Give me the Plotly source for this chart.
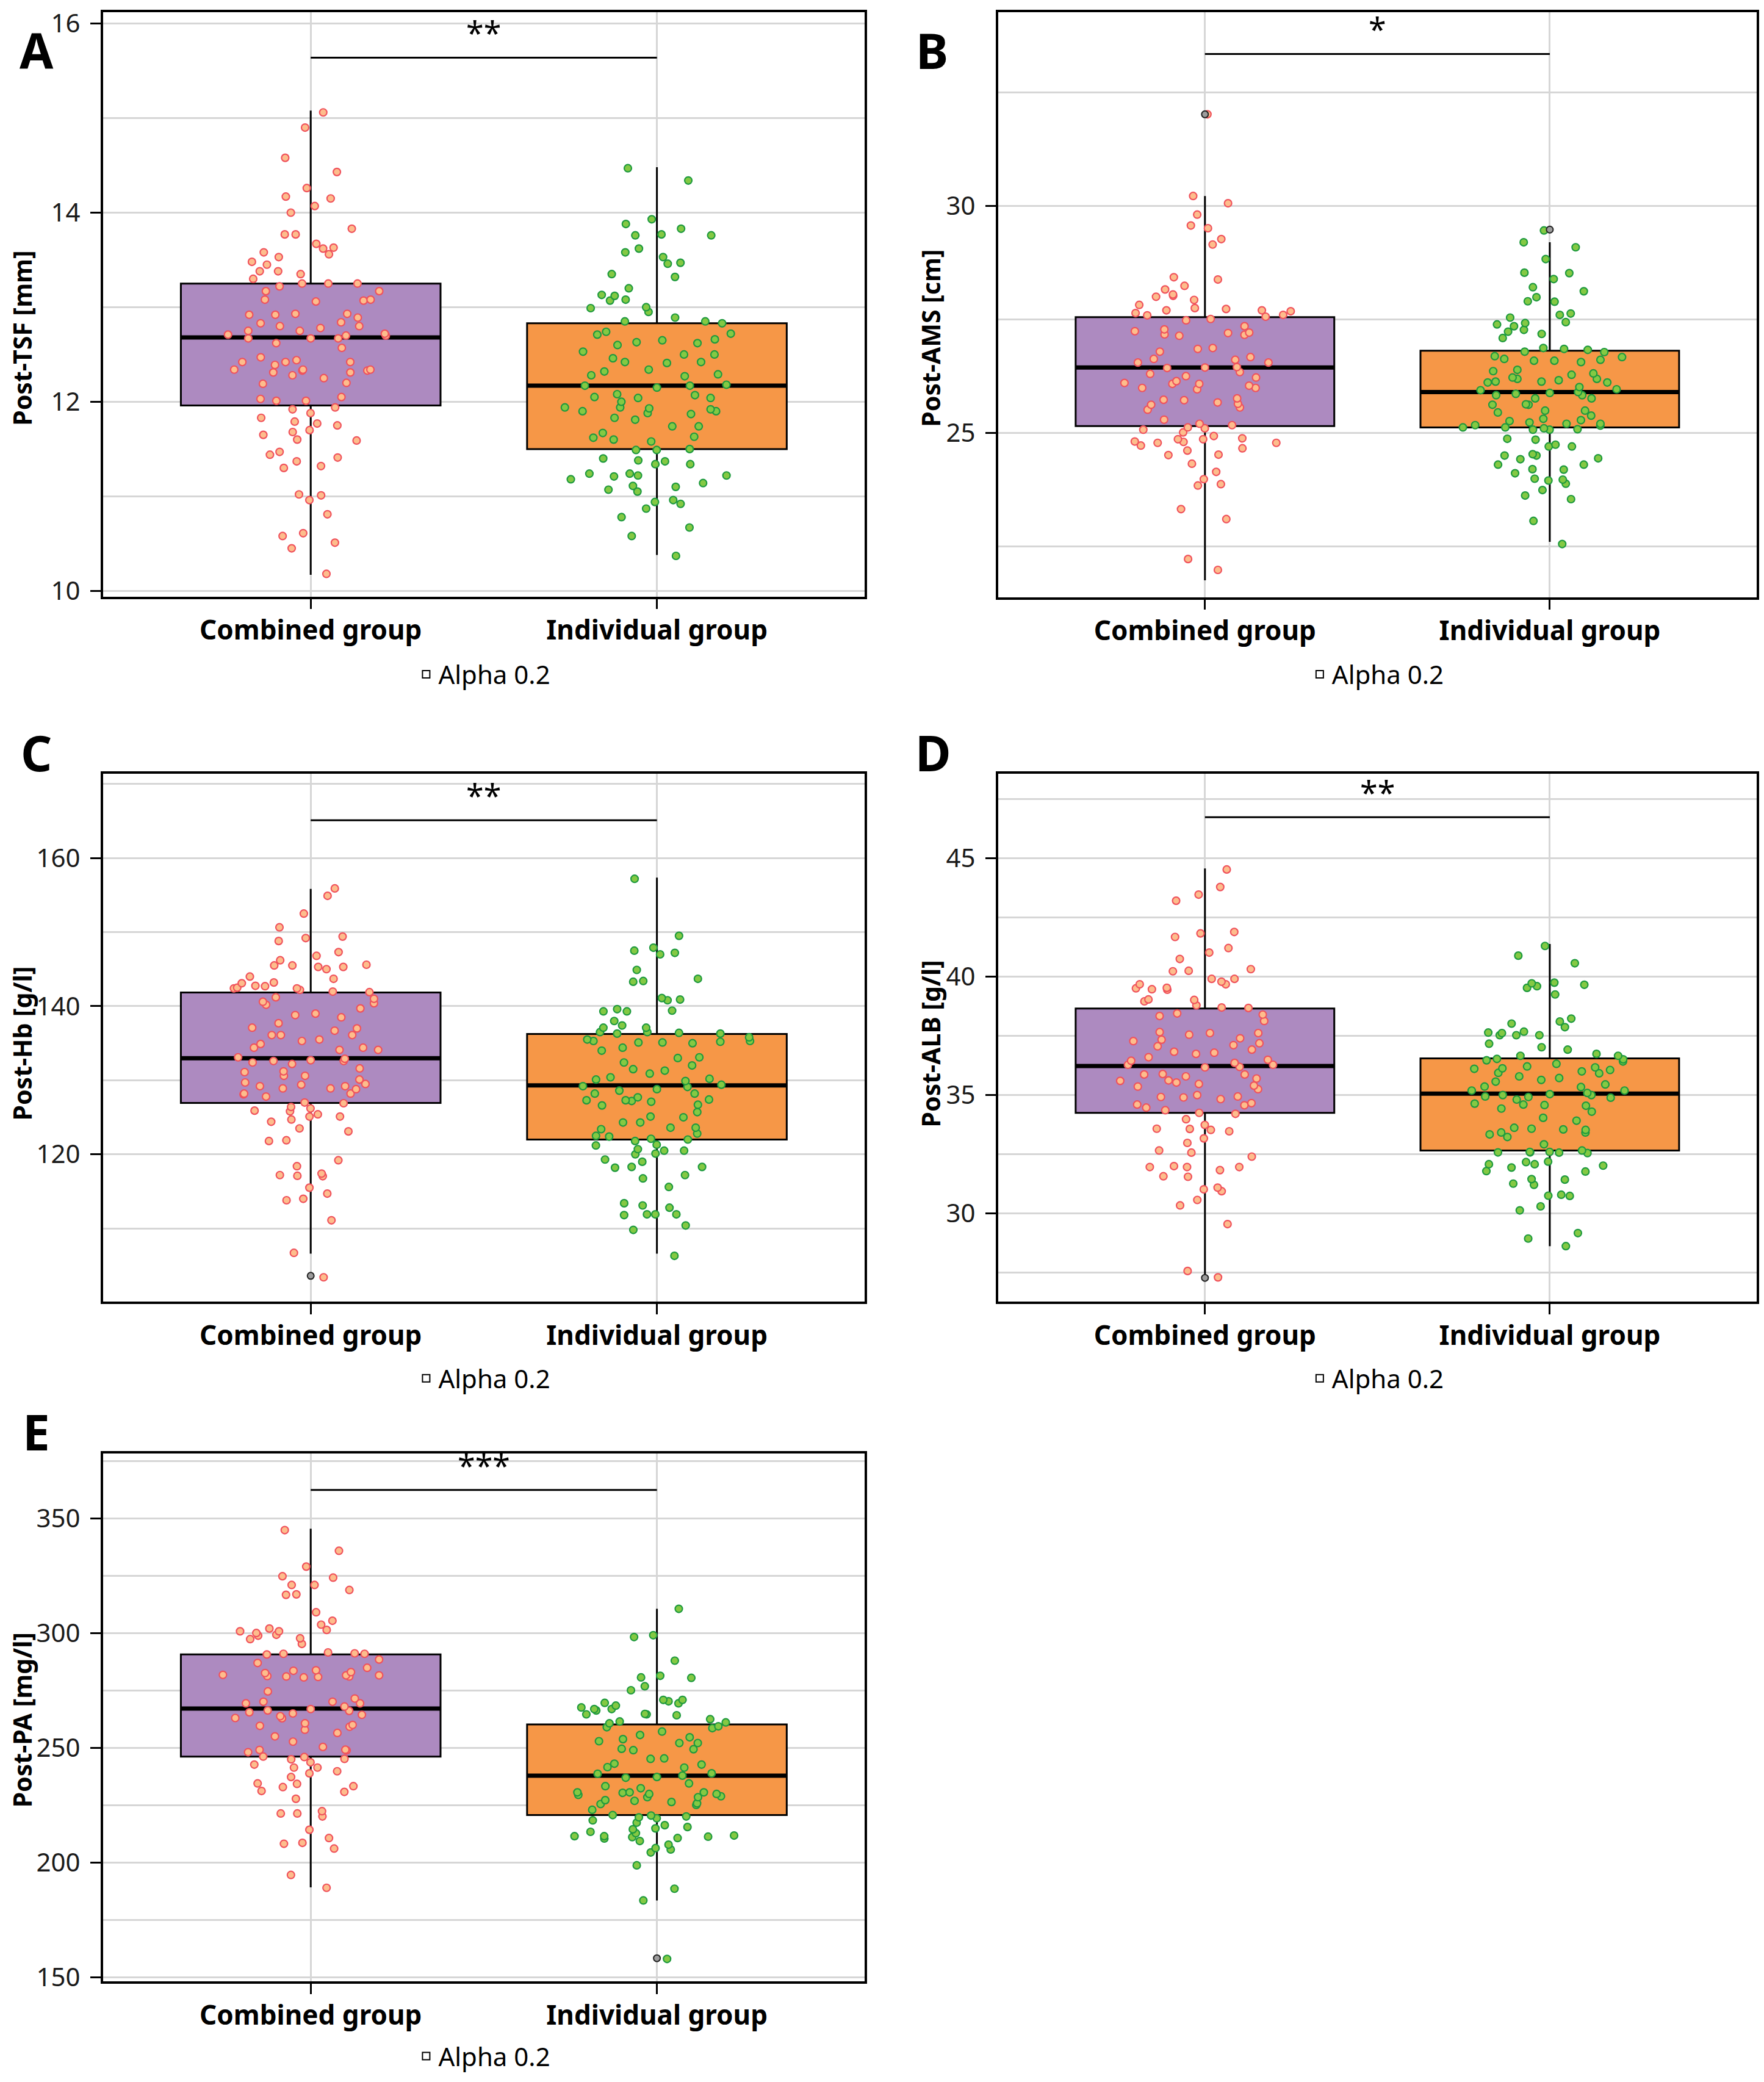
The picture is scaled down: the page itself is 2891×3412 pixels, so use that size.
import plotly.graph_objects as go

# ---------------- data ----------------
GROUPS = ["Combined group", "Individual group"]
PANEL_LETTERS = ["A", "B", "C", "D", "E"]
Y_TITLES = ["Post-TSF [mm]", "Post-AMS [cm]", "Post-Hb [g/l]", "Post-ALB [g/l]", "Post-PA [mg/l]"]
SIG_LABELS = ["**", "*", "**", "**", "***"]
SIG_HEIGHTS = [15.64, 33.35, 165.1, 46.74, 362.3]
LEGEND_LABEL = "Alpha 0.2"

TSF_COMBINED = [15.06, 14.90, 14.58, 14.43, 14.26, 14.17, 14.15, 14.07, 14.00, 13.83, 13.77, 13.77, 13.67, 13.63,
                13.62, 13.56, 13.58, 13.53, 13.48, 13.45, 13.38, 13.38, 13.35, 13.30, 13.25, 13.25, 13.22, 13.25,
                13.17, 13.17, 13.06, 13.07, 13.08, 13.08, 12.92, 12.92, 12.93, 12.93, 12.89, 12.83, 12.80, 12.75,
                12.80, 12.78, 12.84, 12.75, 12.70, 12.67, 12.72, 12.67, 12.67, 12.70, 12.71, 12.62, 12.57, 12.42,
                12.42, 12.42, 12.44, 12.47, 12.39, 12.34, 12.34, 12.31, 12.34, 12.33, 12.33, 12.31, 12.28, 12.25,
                12.19, 12.20, 12.05, 12.03, 12.01, 12.01, 11.94, 11.92, 11.88, 11.83, 11.79, 11.75, 11.77, 11.68,
                11.70, 11.65, 11.60, 11.59, 11.47, 11.44, 11.37, 11.41, 11.32, 11.30, 11.02, 11.01, 10.96, 10.81,
                10.51, 10.61, 10.58, 10.45, 10.18]
TSF_INDIVIDUAL = [14.47, 14.34, 13.93, 13.88, 13.83, 13.76, 13.76, 13.77, 13.62, 13.58, 13.53, 13.47, 13.46, 13.35,
                  13.32, 13.20, 13.12, 13.07, 13.08, 13.13, 13.00, 12.99, 12.95, 12.89, 12.85, 12.85, 12.83, 12.71,
                  12.74, 12.72, 12.66, 12.65, 12.63, 12.60, 12.62, 12.53, 12.50, 12.50, 12.46, 12.41, 12.34, 12.42,
                  12.42, 12.28, 12.29, 12.32, 12.27, 12.18, 12.17, 12.17, 12.15, 12.07, 12.04, 12.08, 12.05, 12.04,
                  12.00, 11.93, 11.94, 11.92, 11.94, 11.90, 11.90, 11.88, 11.87, 11.83, 11.81, 11.74, 11.74, 11.67,
                  11.63, 11.60, 11.58, 11.62, 11.50, 11.49, 11.49, 11.40, 11.34, 11.34, 11.37, 11.38, 11.24, 11.22,
                  11.18, 11.24, 11.21, 11.22, 11.14, 11.10, 11.05, 11.11, 11.07, 10.96, 10.92, 10.94, 10.87, 10.78,
                  10.67, 10.58, 10.37]
TSF_Q1 = [11.96, 11.50]
TSF_MEDIAN = [12.68, 12.17]
TSF_Q3 = [13.25, 12.83]
TSF_LOWER = [10.17, 10.38]
TSF_UPPER = [15.08, 14.48]
TSF_OUTLIER_GROUPS = []
TSF_OUTLIERS = []

AMS_COMBINED = [32.02, 30.22, 30.06, 29.81, 29.57, 29.51, 29.27, 29.15, 28.38, 28.43, 28.24, 28.16, 28.02, 28.05,
                28.00, 27.93, 27.82, 27.70, 27.73, 27.75, 27.68, 27.56, 27.48, 27.60, 27.51, 27.70, 27.64, 27.59,
                27.35, 27.20, 27.28, 27.21, 27.14, 27.16, 27.24, 27.17, 26.87, 26.85, 26.79, 26.63, 26.55, 26.67,
                26.61, 26.55, 26.45, 26.44, 26.43, 26.34, 26.30, 26.25, 26.22, 26.14, 26.08, 26.08, 26.10, 26.04,
                25.99, 25.99, 25.96, 25.72, 25.76, 25.64, 25.67, 25.73, 25.56, 25.62, 25.51, 25.29, 25.17, 25.20,
                25.12, 25.07, 25.10, 25.01, 24.93, 24.88, 24.86, 24.86, 24.72, 24.78, 24.80, 24.78, 24.81, 24.61,
                24.66, 24.52, 24.51, 24.32, 24.14, 23.98, 23.84, 23.87, 23.32, 23.10, 22.22, 21.98]
AMS_INDIVIDUAL = [29.46, 29.20, 29.09, 28.83, 28.53, 28.52, 28.39, 28.21, 28.12, 27.99, 27.89, 27.90, 27.63, 27.60,
                  27.54, 27.44, 27.39, 27.27, 27.42, 27.35, 27.18, 27.23, 27.09, 26.87, 26.79, 26.83, 26.78, 26.85,
                  26.67, 26.63, 26.59, 26.56, 26.59, 26.61, 26.69, 26.31, 26.36, 26.39, 26.28, 26.16, 26.11, 26.13,
                  26.19, 26.22, 26.19, 26.11, 26.13, 26.01, 25.86, 25.83, 25.90, 25.94, 25.96, 25.88, 25.76, 25.76,
                  25.83, 25.62, 25.63, 25.49, 25.38, 25.62, 25.49, 25.45, 25.31, 25.20, 25.26, 25.23, 25.20, 25.12,
                  25.08, 25.28, 25.17, 25.12, 25.10, 25.16, 25.07, 25.07, 24.85, 24.87, 24.74, 24.70, 24.70, 24.50,
                  24.42, 24.44, 24.53, 24.50, 24.30, 24.30, 24.20, 24.19, 24.11, 23.97, 23.99, 23.95, 23.88, 23.74,
                  23.62, 23.54, 23.06, 22.55]
AMS_Q1 = [25.15, 25.12]
AMS_MEDIAN = [26.44, 25.90]
AMS_Q3 = [27.55, 26.81]
AMS_LOWER = [21.75, 22.60]
AMS_UPPER = [30.22, 29.20]
AMS_OUTLIER_GROUPS = ["Combined group", "Individual group"]
AMS_OUTLIERS = [32.02, 29.48]

HB_COMBINED = [155.9, 154.9, 152.5, 150.65, 149.4, 149.2, 148.8, 147.3, 146.8, 146.2, 145.5, 145.3, 145.5, 145.0,
               145.3, 145.6, 144.0, 143.7, 143.1, 142.5, 143.2, 142.4, 142.75, 142.4, 141.9, 142.2, 142.7, 141.97,
               141.2, 140.6, 140.2, 141.0, 140.4, 139.7, 138.8, 139.0, 138.5, 137.7, 137.1, 137.0, 136.7, 136.1,
               136.1, 136.1, 135.5, 135.3, 134.9, 134.4, 134.4, 134.1, 134.1, 132.9, 132.4, 132.6, 133.1, 132.7,
               132.6, 132.2, 131.6, 131.1, 131.2, 130.6, 130.6, 130.1, 129.7, 129.5, 129.2, 129.2, 129.4, 128.9,
               128.8, 128.9, 127.8, 128.1, 128.2, 128.2, 127.0, 126.9, 126.4, 125.8, 125.9, 125.4, 126.2, 125.1,
               125.1, 124.7, 124.4, 123.5, 123.1, 121.8, 121.9, 119.2, 118.4, 117.05, 117.1, 117.4, 117.2, 115.5,
               114.7, 114.0, 113.8, 111.1, 106.7, 103.4]
HB_INDIVIDUAL = [157.2, 149.5, 147.9, 147.0, 147.5, 147.2, 144.9, 143.7, 143.3, 143.4, 141.1, 140.9, 140.8, 139.3,
                 139.3, 139.6, 139.4, 138.0, 137.4, 137.1, 136.5, 136.4, 137.1, 136.3, 136.3, 136.5, 135.8, 135.3,
                 135.0, 135.5, 135.3, 135.1, 135.1, 135.2, 134.4, 134.0, 133.1, 133.0, 132.4, 131.5, 132.0, 131.3,
                 130.9, 130.4, 129.9, 130.2, 130.1, 129.2, 129.1, 129.4, 128.8, 128.2, 128.6, 128.2, 127.7, 127.2,
                 126.7, 127.3, 127.4, 127.1, 127.3, 126.6, 125.7, 125.1, 125.0, 124.3, 124.3, 123.6, 123.4, 123.6,
                 122.8, 122.4, 122.0, 122.5, 122.1, 121.8, 121.3, 120.5, 121.2, 120.7, 120.1, 120.5, 120.0, 119.3,
                 119.0, 118.3, 118.3, 118.2, 117.2, 116.75, 115.6, 113.4, 113.1, 112.8, 111.9, 111.9, 111.9, 111.8,
                 110.4, 109.8, 106.3]
HB_Q1 = [126.95, 122.0]
HB_MEDIAN = [132.98, 129.3]
HB_Q3 = [141.85, 136.24]
HB_LOWER = [106.6, 106.6]
HB_UPPER = [155.84, 157.35]
HB_OUTLIER_GROUPS = ["Combined group"]
HB_OUTLIERS = [103.6]

ALB_COMBINED = [44.53, 43.79, 43.47, 43.21, 41.68, 41.83, 41.89, 41.21, 41.02, 40.75, 40.32, 40.23, 40.25, 39.68,
                39.79, 39.91, 39.45, 39.51, 39.91, 39.68, 39.47, 39.53, 39.02, 39.04, 38.96, 38.79, 38.68, 38.70,
                38.45, 38.40, 38.34, 38.13, 37.62, 37.66, 37.55, 37.62, 37.40, 37.28, 37.34, 37.19, 37.06, 37.11,
                36.92, 36.83, 36.79, 36.74, 36.60, 36.45, 36.49, 36.36, 36.28, 36.28, 36.19, 36.17, 35.79, 35.87,
                35.89, 35.87, 35.70, 35.60, 35.62, 35.47, 35.53, 35.36, 35.40, 35.25, 35.00, 34.90, 34.92, 34.83,
                34.94, 34.66, 34.60, 34.57, 34.47, 34.36, 34.25, 34.21, 33.98, 33.74, 33.53, 33.57, 33.47, 33.58,
                33.17, 32.98, 32.66, 32.57, 32.40, 32.00, 31.96, 31.96, 31.96, 31.83, 31.55, 31.57, 31.09, 30.94,
                31.02, 30.57, 30.34, 29.55, 27.57, 27.30]
ALB_INDIVIDUAL = [41.30, 40.89, 40.57, 39.75, 39.66, 39.60, 39.72, 39.53, 39.25, 38.23, 38.11, 38.02, 37.87, 37.68,
                  37.53, 37.53, 37.64, 37.53, 37.62, 37.17, 37.02, 36.92, 36.74, 36.66, 36.53, 36.66, 36.47, 36.51,
                  36.42, 36.32, 36.17, 36.21, 36.11, 36.06, 36.00, 35.94, 36.13, 35.92, 35.79, 35.72, 35.64, 35.57,
                  35.45, 35.36, 35.34, 35.19, 35.19, 35.09, 35.00, 35.04, 35.00, 34.89, 34.92, 34.81, 34.94, 34.64,
                  34.55, 34.58, 34.60, 34.43, 34.30, 33.92, 34.04, 33.58, 33.53, 33.62, 33.55, 33.42, 33.42, 33.34,
                  33.23, 32.92, 32.57, 32.58, 32.55, 32.58, 32.60, 32.66, 32.60, 32.19, 32.17, 32.02, 32.08, 32.08,
                  31.94, 31.77, 31.79, 31.43, 31.45, 31.21, 31.26, 30.79, 30.75, 30.74, 30.30, 30.13, 29.17, 28.94,
                  28.62]
ALB_Q1 = [34.25, 32.66]
ALB_MEDIAN = [36.23, 35.06]
ALB_Q3 = [38.66, 36.55]
ALB_LOWER = [27.40, 28.62]
ALB_UPPER = [44.57, 41.38]
ALB_OUTLIER_GROUPS = ["Combined group"]
ALB_OUTLIERS = [27.28]

PA_COMBINED = [344.8, 335.8, 328.9, 324.1, 324.7, 320.9, 320.9, 318.7, 316.8, 316.6, 309.0, 305.3, 303.6, 301.9,
               300.7, 299.2, 300.7, 297.3, 301.3, 298.8, 299.95, 297.65, 295.2, 291.5, 290.9, 291.1, 290.6, 290.9,
               288.4, 286.9, 284.8, 283.5, 282.9, 283.7, 281.7, 282.5, 281.2, 281.5, 281.0, 281.5, 280.8, 280.6,
               281.0, 274.5, 271.4, 269.3, 270.0, 269.3, 270.0, 267.9, 266.8, 266.0, 264.9, 266.2, 264.3, 262.8,
               263.7, 265.4, 262.9, 259.1, 259.5, 260.6, 259.9, 257.8, 254.9, 256.4, 252.6, 250.3, 248.8, 249.1,
               249.0, 248.0, 246.1, 245.1, 244.9, 245.9, 243.6, 241.3, 242.6, 241.3, 239.7, 238.8, 237.2, 234.4,
               233.2, 232.8, 234.2, 230.7, 231.1, 227.7, 222.3, 221.3, 221.3, 220.0, 214.2, 208.5, 210.6, 208.1,
               206.0, 194.5, 188.9]
PA_INDIVIDUAL = [310.5, 299.0, 298.2, 287.9, 280.6, 281.3, 280.4, 276.75, 275.0, 270.2, 270.8, 269.5, 268.3, 270.8,
                 269.3, 267.5, 266.8, 264.7, 264.5, 266.8, 266.2, 264.1, 264.5, 261.4, 262.4, 261.0, 260.6, 258.9,
                 259.3, 258.5, 257.0, 255.5, 253.7, 254.5, 252.0, 252.0, 252.8, 249.5, 249.3, 248.9, 245.3, 245.1,
                 243.0, 242.6, 241.3, 241.5, 237.8, 236.9, 238.6, 238.8, 237.2, 234.4, 233.2, 232.3, 230.5, 229.4,
                 229.8, 229.8, 230.5, 228.4, 226.3, 228.8, 230.3, 230.5, 228.4, 226.8, 227.1, 225.4, 225.7, 225.0,
                 222.9, 220.6, 220.4, 220.0, 218.3, 219.2, 219.6, 217.3, 216.2, 215.4, 214.4, 214.8, 212.7, 213.3,
                 211.7, 211.0, 210.4, 211.4, 210.6, 211.4, 211.2, 209.3, 207.7, 205.6, 204.3, 206.2, 198.7, 188.5,
                 183.4, 157.9]
PA_Q1 = [246.1, 220.6]
PA_MEDIAN = [267.0, 237.8]
PA_Q3 = [290.6, 260.1]
PA_LOWER = [189.1, 183.4]
PA_UPPER = [345.4, 310.5]
PA_OUTLIER_GROUPS = ["Individual group"]
PA_OUTLIERS = [158.2]

# ---------------- styling / geometry ----------------
PAGE_W, PAGE_H = 2891, 3412
BODY = 8                      # default page margin around the plot div
W, H = PAGE_W - 2 * BODY, PAGE_H - 2 * BODY


def px(xr):                   # reference page x -> figure fraction
    return min(1.0, max(0.0, (xr - BODY) / W))


def py(yr):                   # reference page y -> figure fraction (from bottom), small vertical calibration
    fy = 952.6 + (yr - 961) * 1.00875
    return min(1.0, max(0.0, 1 - fy / H))


BOX_FILLS = ["#AD8AC0", "#F69747"]
PT_FILLS = ["#FDBD8C", "#84C943"]
PT_LINES = ["#F0525C", "#1E9A3E"]
GRID = "#D6D6D6"
FONT = "Noto Sans"

X_EDGES = [(169, 1419), (1638, 2883), (169, 1419), (1638, 2883), (169, 1419)]
Y_EDGES = [(8, 977), (8, 978), (1268, 2136), (1268, 2136), (2385, 3253)]
Y_RANGES = [[9.94, 16.12], [21.38, 34.27], [100.1, 171.4], [26.27, 48.58], [148.1, 378.3]]
Y_DTICKS = [2, 5, 20, 5, 50]
LETTER_POS = [(60, 78), (1530, 78), (60, 1233), (1532, 1233), (60, 2349)]
TITLE_POS = [(36, 552), (1527, 552), (36, 1711), (1527, 1712), (36, 2823)]
LEGEND_Y = [1105, 1105, 2262, 2262, 3376]

panels = [
    (TSF_COMBINED, TSF_INDIVIDUAL, TSF_Q1, TSF_MEDIAN, TSF_Q3, TSF_LOWER, TSF_UPPER, TSF_OUTLIER_GROUPS, TSF_OUTLIERS),
    (AMS_COMBINED, AMS_INDIVIDUAL, AMS_Q1, AMS_MEDIAN, AMS_Q3, AMS_LOWER, AMS_UPPER, AMS_OUTLIER_GROUPS, AMS_OUTLIERS),
    (HB_COMBINED, HB_INDIVIDUAL, HB_Q1, HB_MEDIAN, HB_Q3, HB_LOWER, HB_UPPER, HB_OUTLIER_GROUPS, HB_OUTLIERS),
    (ALB_COMBINED, ALB_INDIVIDUAL, ALB_Q1, ALB_MEDIAN, ALB_Q3, ALB_LOWER, ALB_UPPER, ALB_OUTLIER_GROUPS, ALB_OUTLIERS),
    (PA_COMBINED, PA_INDIVIDUAL, PA_Q1, PA_MEDIAN, PA_Q3, PA_LOWER, PA_UPPER, PA_OUTLIER_GROUPS, PA_OUTLIERS),
]

fig = go.Figure()
layout = dict(
    width=W, height=H, margin=dict(l=0, r=0, t=0, b=0),
    paper_bgcolor="white", plot_bgcolor="white",
    boxmode="overlay", boxgap=0.25, boxgroupgap=0, showlegend=True,
    font=dict(family=FONT, color="black"),
)
annotations = []

for i, (comb, indiv, q1, med, q3, lo, up, og, ov) in enumerate(panels):
    sfx = "" if i == 0 else str(i + 1)
    xa, ya = "x" + sfx, "y" + sfx
    leg = "legend" + sfx
    values = [comb, indiv]

    # main boxes
    for g in range(2):
        fig.add_trace(go.Box(
            x=[GROUPS[g]], q1=[q1[g]], median=[med[g]], q3=[q3[g]],
            lowerfence=[lo[g]], upperfence=[up[g]],
            fillcolor=BOX_FILLS[g], line=dict(color="black", width=3),
            whiskerwidth=0, boxpoints=False, showlegend=False,
            xaxis=xa, yaxis=ya, hoverinfo="skip"))
    # thick median lines
    fig.add_trace(go.Box(
        x=GROUPS, q1=med, median=med, q3=med, lowerfence=med, upperfence=med,
        fillcolor="black", line=dict(color="black", width=7),
        whiskerwidth=0, boxpoints=False, showlegend=False,
        xaxis=xa, yaxis=ya, hoverinfo="skip"))
    # jittered points
    for g in range(2):
        fig.add_trace(go.Box(
            x=[GROUPS[g]] * len(values[g]), y=values[g],
            boxpoints="all", jitter=0.72, pointpos=0,
            fillcolor="rgba(0,0,0,0)", line=dict(color="rgba(0,0,0,0)", width=0),
            marker=dict(size=12, color=PT_FILLS[g], line=dict(color=PT_LINES[g], width=2.2)),
            showlegend=False, xaxis=xa, yaxis=ya, hoverinfo="y"))
    # legend entry
    fig.add_trace(go.Box(
        x=[GROUPS[0]], y=[None], name=LEGEND_LABEL,
        fillcolor="white", line=dict(color="black", width=2),
        showlegend=True, legend=leg, xaxis=xa, yaxis=ya))
    # outliers
    if ov:
        fig.add_trace(go.Scatter(
            x=og, y=ov, mode="markers",
            marker=dict(size=11, color="#9C9C9C", line=dict(color="#222222", width=2)),
            showlegend=False, xaxis=xa, yaxis=ya))
    # significance bracket
    fig.add_trace(go.Scatter(
        x=GROUPS, y=[SIG_HEIGHTS[i]] * 2, mode="lines",
        line=dict(color="black", width=3), showlegend=False,
        xaxis=xa, yaxis=ya, hoverinfo="skip"))
    annotations.append(dict(
        x=0.5, y=SIG_HEIGHTS[i], xref=xa, yref=ya, text=SIG_LABELS[i],
        showarrow=False, yanchor="bottom", yshift=4,
        font=dict(family=FONT, size=52, color="black")))

    dtick = Y_DTICKS[i]
    x0, x1 = X_EDGES[i]
    y0, y1 = Y_EDGES[i]
    layout["xaxis" + sfx] = dict(
        domain=[px(x0), px(x1)], anchor=ya, type="category",
        categoryorder="array", categoryarray=GROUPS, range=[-0.6, 1.6],
        showgrid=True, gridcolor=GRID, gridwidth=2.5,
        showline=True, mirror=True, linecolor="black", linewidth=3.5,
        ticks="outside", ticklen=17, tickwidth=3, tickcolor="black",
        tickfont=dict(family=FONT, size=44, color="black", weight="bold"),
        ticklabelstandoff=-3, zeroline=False)
    layout["yaxis" + sfx] = dict(
        domain=[py(y1), py(y0)], anchor=xa, range=Y_RANGES[i],
        tick0=0, dtick=dtick,
        showgrid=True, gridcolor=GRID, gridwidth=2.5,
        minor=dict(tick0=0, dtick=dtick / 2, showgrid=True, gridcolor=GRID, gridwidth=2.5, ticks=""),
        showline=True, mirror=True, linecolor="black", linewidth=3.5,
        ticks="outside", ticklen=17, tickwidth=3, tickcolor="black",
        tickfont=dict(family=FONT, size=42, color="#1a1a1a"),
        ticklabelstandoff=8, ticklabeloverflow="allow", zeroline=False)
    layout[leg] = dict(
        x=(px(x0) + px(x1)) / 2, xanchor="center",
        y=py(LEGEND_Y[i]), yanchor="middle", orientation="h",
        bgcolor="rgba(0,0,0,0)", font=dict(family=FONT, size=42, color="black"))

    lx, ly = LETTER_POS[i]
    annotations.append(dict(
        x=px(lx), y=py(ly), xref="paper", yref="paper", text="<b>%s</b>" % PANEL_LETTERS[i],
        showarrow=False, xanchor="center", yanchor="middle",
        font=dict(family=FONT, size=80, color="black")))
    tx, ty = TITLE_POS[i]
    annotations.append(dict(
        x=px(tx), y=py(ty), xref="paper", yref="paper", text="<b>%s</b>" % Y_TITLES[i],
        showarrow=False, xanchor="center", yanchor="middle", textangle=-90,
        font=dict(family=FONT, size=41, color="black")))

layout["annotations"] = annotations
fig.update_layout(**layout)
fig.write_html("out.html")
